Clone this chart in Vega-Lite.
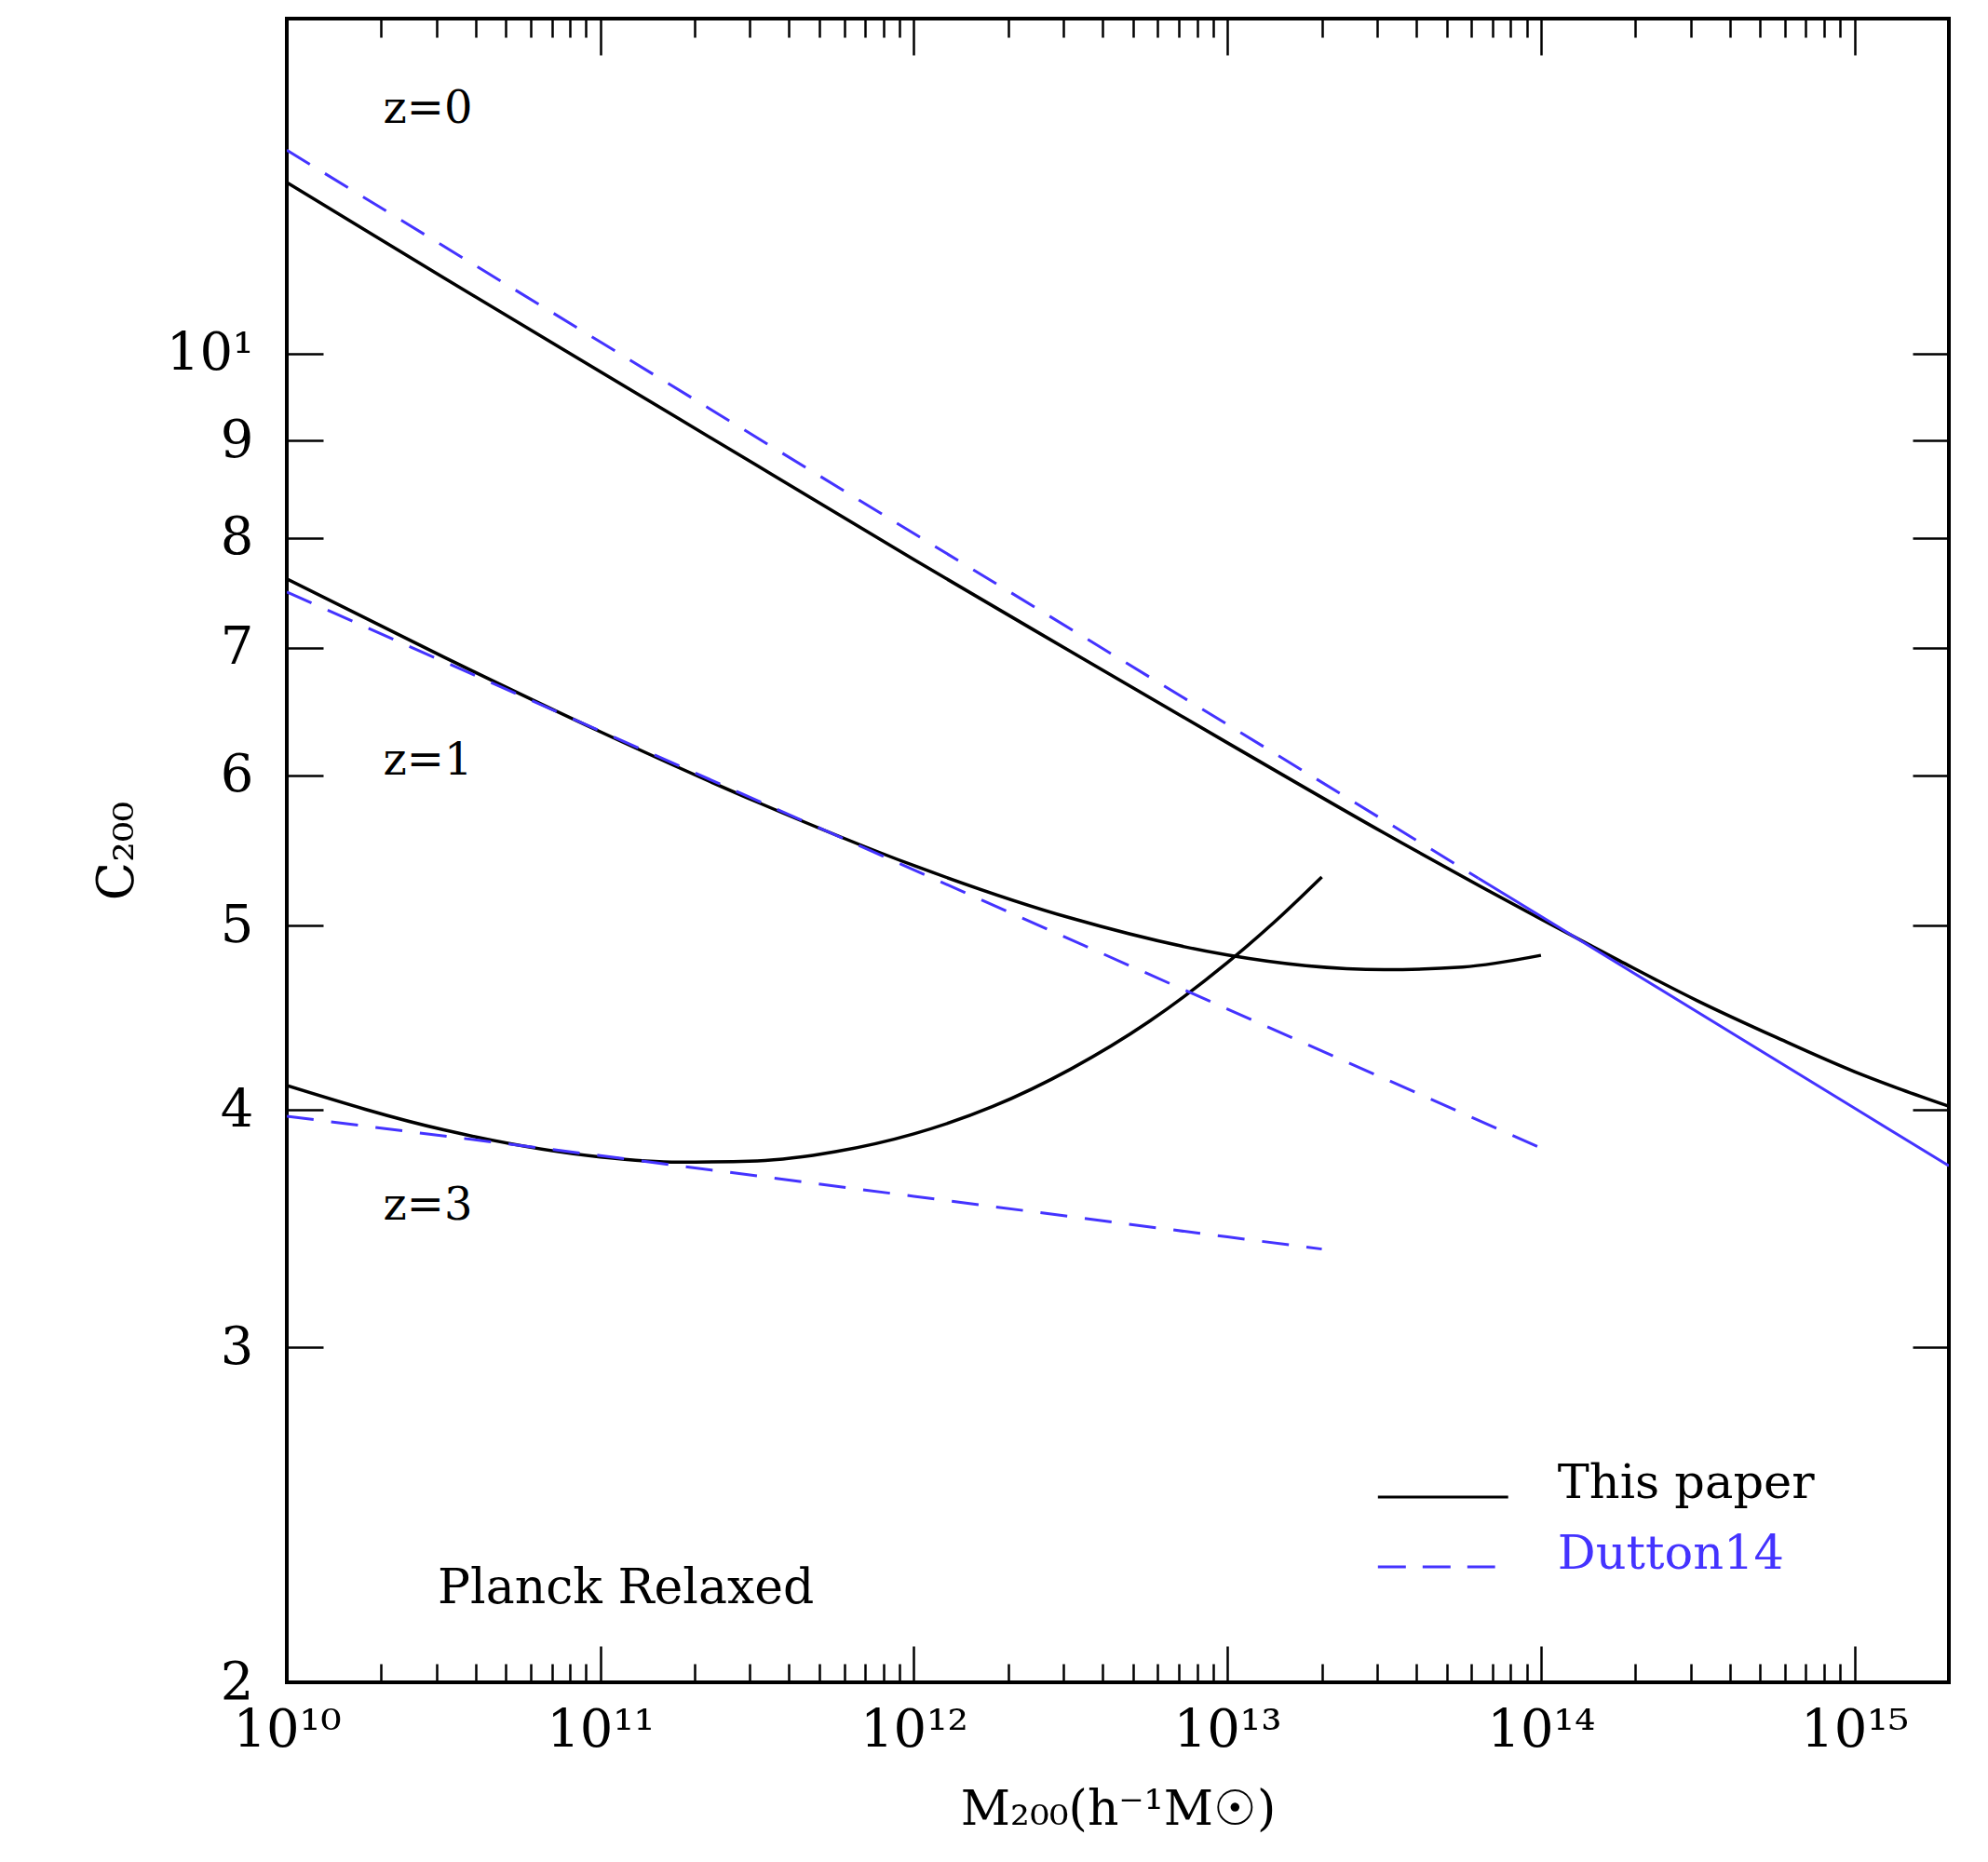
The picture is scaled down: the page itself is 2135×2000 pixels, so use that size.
{
  "$schema": "https://vega.github.io/schema/vega-lite/v6.json",
  "width": 1785,
  "height": 1787,
  "autosize": {"type": "none"},
  "padding": {"left": 308, "top": 20, "right": 42, "bottom": 193},
  "background": "white",
  "config": {
    "view": {"stroke": "black", "strokeWidth": 4},
    "axis": {
      "domain": false, "grid": false, "tickColor": "black", "tickWidth": 2.5,
      "labelColor": "black", "labelFont": "DejaVu Serif", "labelFontSize": 56,
      "titleFont": "DejaVu Serif", "titleFontWeight": "normal", "titleColor": "black", "titleFontSize": 54,
      "labelFlush": false, "labelOverlap": false
    }
  },
  "datasets": {
    "curves": [
      {"src": "This paper", "z": "0", "part": "solid", "M": 1e10, "c": 12.30},
      {"src": "This paper", "z": "0", "part": "solid", "M": 3.162e10, "c": 10.96},
      {"src": "This paper", "z": "0", "part": "solid", "M": 1e11, "c": 9.78},
      {"src": "This paper", "z": "0", "part": "solid", "M": 3.162e11, "c": 8.73},
      {"src": "This paper", "z": "0", "part": "solid", "M": 1e12, "c": 7.79},
      {"src": "This paper", "z": "0", "part": "solid", "M": 3.162e12, "c": 6.97},
      {"src": "This paper", "z": "0", "part": "solid", "M": 1e13, "c": 6.24},
      {"src": "This paper", "z": "0", "part": "solid", "M": 3.162e13, "c": 5.594},
      {"src": "This paper", "z": "0", "part": "solid", "M": 1e14, "c": 5.04},
      {"src": "This paper", "z": "0", "part": "solid", "M": 1.778e14, "c": 4.793},
      {"src": "This paper", "z": "0", "part": "solid", "M": 3.162e14, "c": 4.565},
      {"src": "This paper", "z": "0", "part": "solid", "M": 5.623e14, "c": 4.368},
      {"src": "This paper", "z": "0", "part": "solid", "M": 1e15, "c": 4.19},
      {"src": "This paper", "z": "0", "part": "solid", "M": 1.413e15, "c": 4.10},
      {"src": "This paper", "z": "0", "part": "solid", "M": 2e15, "c": 4.018},

      {"src": "This paper", "z": "1", "part": "solid", "M": 1e10, "c": 7.61},
      {"src": "This paper", "z": "1", "part": "solid", "M": 3.162e10, "c": 6.924},
      {"src": "This paper", "z": "1", "part": "solid", "M": 1e11, "c": 6.324},
      {"src": "This paper", "z": "1", "part": "solid", "M": 3.162e11, "c": 5.808},
      {"src": "This paper", "z": "1", "part": "solid", "M": 1e12, "c": 5.378},
      {"src": "This paper", "z": "1", "part": "solid", "M": 3.162e12, "c": 5.047},
      {"src": "This paper", "z": "1", "part": "solid", "M": 1e13, "c": 4.826},
      {"src": "This paper", "z": "1", "part": "solid", "M": 1.778e13, "c": 4.764},
      {"src": "This paper", "z": "1", "part": "solid", "M": 3.162e13, "c": 4.741},
      {"src": "This paper", "z": "1", "part": "solid", "M": 5.623e13, "c": 4.756},
      {"src": "This paper", "z": "1", "part": "solid", "M": 1e14, "c": 4.824},

      {"src": "This paper", "z": "3", "part": "solid", "M": 1e10, "c": 4.12},
      {"src": "This paper", "z": "3", "part": "solid", "M": 3.162e10, "c": 3.905},
      {"src": "This paper", "z": "3", "part": "solid", "M": 1e11, "c": 3.779},
      {"src": "This paper", "z": "3", "part": "solid", "M": 1.778e11, "c": 3.755},
      {"src": "This paper", "z": "3", "part": "solid", "M": 3.162e11, "c": 3.761},
      {"src": "This paper", "z": "3", "part": "solid", "M": 5.623e11, "c": 3.803},
      {"src": "This paper", "z": "3", "part": "solid", "M": 1e12, "c": 3.886},
      {"src": "This paper", "z": "3", "part": "solid", "M": 1.778e12, "c": 4.016},
      {"src": "This paper", "z": "3", "part": "solid", "M": 3.162e12, "c": 4.203},
      {"src": "This paper", "z": "3", "part": "solid", "M": 5.623e12, "c": 4.452},
      {"src": "This paper", "z": "3", "part": "solid", "M": 1e13, "c": 4.782},
      {"src": "This paper", "z": "3", "part": "solid", "M": 1.413e13, "c": 5.023},
      {"src": "This paper", "z": "3", "part": "solid", "M": 2e13, "c": 5.304},

      {"src": "Dutton14", "z": "0", "part": "dash", "M": 1e10, "c": 12.79},
      {"src": "Dutton14", "z": "0", "part": "dash", "M": 1e11, "c": 10.14},
      {"src": "Dutton14", "z": "0", "part": "dash", "M": 1e12, "c": 8.04},
      {"src": "Dutton14", "z": "0", "part": "dash", "M": 1e13, "c": 6.38},
      {"src": "Dutton14", "z": "0", "part": "dash", "M": 6.31e13, "c": 5.297},
      {"src": "Dutton14", "z": "0", "part": "solid", "M": 6.31e13, "c": 5.297},
      {"src": "Dutton14", "z": "0", "part": "solid", "M": 1e14, "c": 5.057},
      {"src": "Dutton14", "z": "0", "part": "solid", "M": 1e15, "c": 4.009},
      {"src": "Dutton14", "z": "0", "part": "solid", "M": 2e15, "c": 3.738},

      {"src": "Dutton14", "z": "1", "part": "dash", "M": 1e10, "c": 7.49},
      {"src": "Dutton14", "z": "1", "part": "dash", "M": 1e11, "c": 6.33},
      {"src": "Dutton14", "z": "1", "part": "dash", "M": 1e12, "c": 5.35},
      {"src": "Dutton14", "z": "1", "part": "dash", "M": 1e13, "c": 4.52},
      {"src": "Dutton14", "z": "1", "part": "dash", "M": 1e14, "c": 3.82},

      {"src": "Dutton14", "z": "3", "part": "dash", "M": 1e10, "c": 3.97},
      {"src": "Dutton14", "z": "3", "part": "dash", "M": 1e11, "c": 3.785},
      {"src": "Dutton14", "z": "3", "part": "dash", "M": 1e12, "c": 3.603},
      {"src": "Dutton14", "z": "3", "part": "dash", "M": 1e13, "c": 3.43},
      {"src": "Dutton14", "z": "3", "part": "dash", "M": 2e13, "c": 3.38}
    ],
    "notes": [
      {"label": "z=0", "M": 2.03e10, "c": 13.43, "kind": "z"},
      {"label": "z=1", "M": 2.03e10, "c": 6.10, "kind": "z"},
      {"label": "z=3", "M": 2.03e10, "c": 3.56, "kind": "z"},
      {"label": "Planck Relaxed", "M": 3.03e10, "c": 2.241, "kind": "name"}
    ],
    "keylines": [
      {"src": "This paper", "M": 3.02e13, "c": 2.503},
      {"src": "This paper", "M": 7.86e13, "c": 2.503},
      {"src": "Dutton14", "M": 3.02e13, "c": 2.300},
      {"src": "Dutton14", "M": 7.14e13, "c": 2.300}
    ],
    "keytext": [
      {"label": "This paper", "M": 1.13e14, "c": 2.542},
      {"label": "Dutton14", "M": 1.13e14, "c": 2.335}
    ]
  },
  "layer": [
    {
      "data": {"name": "curves"},
      "transform": [{"filter": "datum.src == 'This paper'"}],
      "mark": {"type": "line", "color": "black", "strokeWidth": 3.5, "interpolate": "monotone", "clip": true},
      "encoding": {
        "x": {"field": "M", "type": "quantitative",
          "scale": {"type": "log", "domain": [1e10, 2e15], "nice": false},
          "axis": {"orient": "bottom", "values": [1e10, 1e11, 1e12, 1e13, 1e14, 1e15], "tickSize": -39,
            "labelExpr": "datum.value < 5e10 ? '10¹⁰' : datum.value < 5e11 ? '10¹¹' : datum.value < 5e12 ? '10¹²' : datum.value < 5e13 ? '10¹³' : datum.value < 5e14 ? '10¹⁴' : '10¹⁵'",
            "labelPadding": 63, "title": "M₂₀₀(h⁻¹M☉)", "titlePadding": 32, "titleFontSize": 52}},
        "y": {"field": "c", "type": "quantitative",
          "scale": {"type": "log", "domain": [2, 15], "nice": false},
          "axis": {"orient": "left", "values": [2, 3, 4, 5, 6, 7, 8, 9, 10], "tickSize": -39,
            "labelExpr": "datum.value == 10 ? '10¹' : format(datum.value, 'd')",
            "labelPadding": 75, "title": "C₂₀₀", "titlePadding": 25}},
        "detail": {"field": "z"}
      }
    },
    {
      "data": {"name": "curves"},
      "transform": [{"filter": "datum.src == 'Dutton14' && datum.part == 'dash'"}],
      "mark": {"type": "line", "color": "#4433ff", "strokeWidth": 3, "strokeDash": [29, 19], "clip": true},
      "encoding": {
        "x": {"field": "M", "type": "quantitative",
          "scale": {"type": "log", "domain": [1e10, 2e15], "nice": false},
          "axis": {"orient": "bottom", "values": [2e10,3e10,4e10,5e10,6e10,7e10,8e10,9e10,2e11,3e11,4e11,5e11,6e11,7e11,8e11,9e11,2e12,3e12,4e12,5e12,6e12,7e12,8e12,9e12,2e13,3e13,4e13,5e13,6e13,7e13,8e13,9e13,2e14,3e14,4e14,5e14,6e14,7e14,8e14,9e14], "tickSize": -20, "labels": false, "title": null}},
        "y": {"field": "c", "type": "quantitative",
          "scale": {"type": "log", "domain": [2, 15], "nice": false},
          "axis": {"orient": "right", "values": [2, 3, 4, 5, 6, 7, 8, 9, 10], "tickSize": -39, "labels": false, "title": null}},
        "detail": {"field": "z"}
      }
    },
    {
      "data": {"name": "curves"},
      "transform": [{"filter": "datum.src == 'Dutton14' && datum.part == 'solid'"}],
      "mark": {"type": "line", "color": "#4433ff", "strokeWidth": 3, "clip": true},
      "encoding": {
        "x": {"field": "M", "type": "quantitative",
          "scale": {"type": "log", "domain": [1e10, 2e15], "nice": false},
          "axis": {"orient": "top", "values": [1e10, 1e11, 1e12, 1e13, 1e14, 1e15], "tickSize": -39, "labels": false, "title": null}},
        "y": {"field": "c", "type": "quantitative",
          "scale": {"type": "log", "domain": [2, 15], "nice": false}, "axis": null},
        "detail": {"field": "z"}
      }
    },
    {
      "data": {"name": "notes"},
      "transform": [{"filter": "datum.kind == 'z'"}],
      "mark": {"type": "text", "align": "left", "baseline": "middle", "font": "DejaVu Serif", "fontSize": 48, "color": "black"},
      "encoding": {
        "x": {"field": "M", "type": "quantitative",
          "scale": {"type": "log", "domain": [1e10, 2e15], "nice": false},
          "axis": {"orient": "top", "values": [2e10,3e10,4e10,5e10,6e10,7e10,8e10,9e10,2e11,3e11,4e11,5e11,6e11,7e11,8e11,9e11,2e12,3e12,4e12,5e12,6e12,7e12,8e12,9e12,2e13,3e13,4e13,5e13,6e13,7e13,8e13,9e13,2e14,3e14,4e14,5e14,6e14,7e14,8e14,9e14], "tickSize": -20, "labels": false, "title": null}},
        "y": {"field": "c", "type": "quantitative",
          "scale": {"type": "log", "domain": [2, 15], "nice": false}, "axis": null},
        "text": {"field": "label"}
      }
    },
    {
      "data": {"name": "notes"},
      "transform": [{"filter": "datum.kind == 'name'"}],
      "mark": {"type": "text", "align": "left", "baseline": "middle", "font": "DejaVu Serif", "fontSize": 52, "color": "black"},
      "encoding": {
        "x": {"field": "M", "type": "quantitative", "scale": {"type": "log", "domain": [1e10, 2e15], "nice": false}, "axis": null},
        "y": {"field": "c", "type": "quantitative", "scale": {"type": "log", "domain": [2, 15], "nice": false}, "axis": null},
        "text": {"field": "label"}
      }
    },
    {
      "data": {"name": "keylines"},
      "transform": [{"filter": "datum.src == 'This paper'"}],
      "mark": {"type": "line", "color": "black", "strokeWidth": 3},
      "encoding": {
        "x": {"field": "M", "type": "quantitative", "scale": {"type": "log", "domain": [1e10, 2e15], "nice": false}, "axis": null},
        "y": {"field": "c", "type": "quantitative", "scale": {"type": "log", "domain": [2, 15], "nice": false}, "axis": null}
      }
    },
    {
      "data": {"name": "keylines"},
      "transform": [{"filter": "datum.src == 'Dutton14'"}],
      "mark": {"type": "line", "color": "#4433ff", "strokeWidth": 3, "strokeDash": [30, 18]},
      "encoding": {
        "x": {"field": "M", "type": "quantitative", "scale": {"type": "log", "domain": [1e10, 2e15], "nice": false}, "axis": null},
        "y": {"field": "c", "type": "quantitative", "scale": {"type": "log", "domain": [2, 15], "nice": false}, "axis": null}
      }
    },
    {
      "data": {"name": "keytext"},
      "mark": {"type": "text", "align": "left", "baseline": "middle", "font": "DejaVu Serif", "fontSize": 51},
      "encoding": {
        "x": {"field": "M", "type": "quantitative", "scale": {"type": "log", "domain": [1e10, 2e15], "nice": false}, "axis": null},
        "y": {"field": "c", "type": "quantitative", "scale": {"type": "log", "domain": [2, 15], "nice": false}, "axis": null},
        "text": {"field": "label"},
        "color": {"field": "label", "type": "nominal", "scale": {"domain": ["This paper", "Dutton14"], "range": ["black", "#4433ff"]}, "legend": null}
      }
    }
  ],
  "resolve": {"axis": {"x": "independent", "y": "independent"}}
}
